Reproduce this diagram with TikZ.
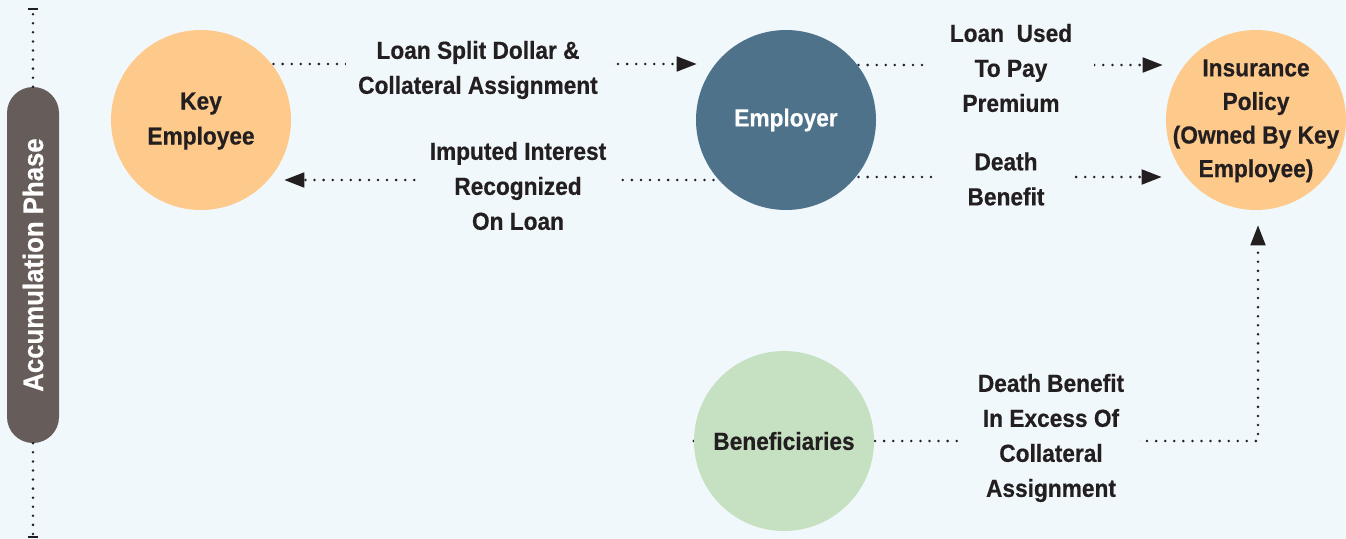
\documentclass[tikz,border=0pt]{standalone}
\usepackage{fontspec}
\setmainfont{Liberation Sans}[FakeStretch=0.92,FakeBold=0.5]
\usetikzlibrary{calc,arrows.meta}
\pgfdeclarelayer{canvas}
\pgfdeclarelayer{background}
\pgfsetlayers{canvas,background,main}
\definecolor{bgc}{HTML}{F1F8FC}
\definecolor{peach}{HTML}{FDCA8C}
\definecolor{slate}{HTML}{4E7289}
\definecolor{sage}{HTML}{C6E1C2}
\definecolor{pillc}{HTML}{665D5A}
\definecolor{ink}{HTML}{231F20}
% multi-line disc caption, nudged down to sit optically centred
\newcommand{\disctext}[1]{\raisebox{-2.5pt}{\begin{tabular}{@{}c@{}}#1\end{tabular}}}

\begin{document}
\begin{tikzpicture}[x=0.75pt,y=-0.75pt,
  every node/.style={font=\fontsize{18.5}{26.25}\selectfont\bfseries, text=ink},
  disc/.style={circle, minimum size=135pt, inner sep=-12pt, align=center},
  gaplabel/.style={fill=bgc, align=center, inner ysep=0pt},
  dotline/.style={ink, line width=2.1pt, line cap=round, dash pattern=on 0pt off 6.8pt},
  conn/.style={dotline, -{Triangle[length=15pt,width=11pt]}},
  pill/.style={rotate=90, fill=pillc, text=white, rounded corners=19.5pt,
    minimum width=267pt, minimum height=39pt, inner sep=0pt,
    font=\fontsize{21}{25}\selectfont\bfseries},
  tick/.style={ink, line width=2.2pt},
]
% canvas
\begin{pgfonlayer}{canvas}
\fill[bgc] (0,0) rectangle (1346,539);
\end{pgfonlayer}
\useasboundingbox (0,0) rectangle (1346,539);

% phase bar on the left
\node[pill] (phase) at (33,265) {Accumulation Phase};
\coordinate (ptop) at (33,9);
\coordinate (pbot) at (33,537);
\draw[dotline] (phase) -- (ptop);
\draw[dotline] (phase) -- (pbot);
\draw[tick] ($(ptop)+(-5,0)$) -- ($(ptop)+(5,0)$);
\draw[tick] ($(pbot)+(-5,0)$) -- ($(pbot)+(5,0)$);

% parties
\node[disc, fill=peach] (ke) at (201,120) {\disctext{Key\\Employee}};
\node[disc, fill=slate, text=white] (emp) at (786,120) {\raisebox{-2pt}{Employer}};
\node[disc, fill=peach, font=\fontsize{18.5}{25.2}\selectfont\bfseries] (ins) at (1256,120)
  {\disctext{Insurance\\Policy\\(Owned By Key\\Employee)}};
\node[disc, fill=sage] (ben) at (784,441) {Beneficiaries};

% flows (behind the discs)
\begin{pgfonlayer}{background}
\draw[conn] ($(ke.center)+(0,-56)$) -- ($(emp.west)+(1,-56)$);
\draw[conn] ($(emp.center)+(0,60)$) -- ($(ke.east)+(-7,60)$);
\draw[conn] ($(emp.center)+(0,-55)$) -- ($(ins.west)+(-3,-55)$);
\draw[conn] ($(emp.center)+(0,57)$) -- ($(ins.west)+(-4,57)$);
\draw[conn] (ben.west) -| ($(ins.south)+(2,15)$);
\end{pgfonlayer}

% flow labels
\node[gaplabel, inner xsep=9pt] (l1) at (478,70) {Loan Split Dollar \&\\Collateral Assignment};
\node[gaplabel, inner xsep=7.5pt] (l2) at (518,186) {Imputed Interest\\Recognized\\On Loan};
\node[gaplabel, inner xsep=16pt] (l3) at (1011,68) {Loan\ \ Used\\To Pay\\Premium};
\node[gaplabel, inner xsep=22pt] (l4) at (1006,179) {Death\\Benefit};
\node[gaplabel, inner xsep=11pt] (l5) at (1051,438) {Death Benefit\\In Excess Of\\Collateral\\Assignment};
\end{tikzpicture}
\end{document}
